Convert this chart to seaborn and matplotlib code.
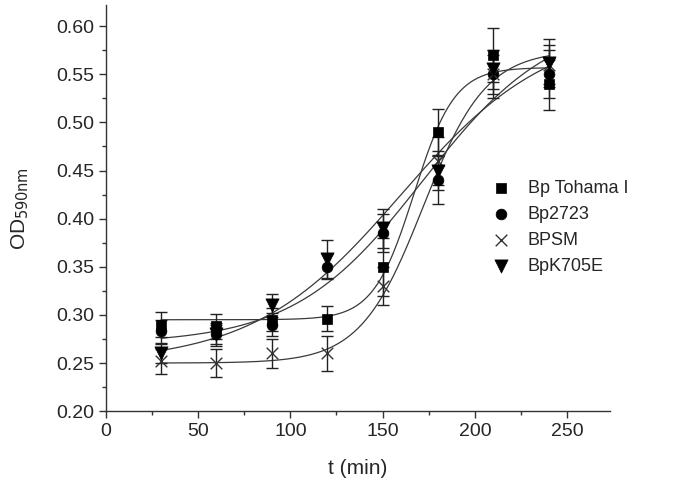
import matplotlib
matplotlib.use('Agg')
import matplotlib.pyplot as plt
import seaborn as sns
import numpy as np
import pandas as pd
from matplotlib.ticker import MultipleLocator

# Время отбора проб (мин)
t_min = [30, 60, 90, 120, 150, 180, 210, 240]

# Оптическая плотность и погрешности по штаммам
od_tohama = [0.290, 0.288, 0.295, 0.296, 0.350, 0.490, 0.570, 0.540]
err_tohama = [0.013, 0.013, 0.012, 0.013, 0.030, 0.024, 0.028, 0.027]

od_2723 = [0.283, 0.280, 0.290, 0.350, 0.385, 0.440, 0.550, 0.550]
err_2723 = [0.012, 0.012, 0.012, 0.013, 0.020, 0.025, 0.025, 0.025]

od_bpsm = [0.252, 0.250, 0.260, 0.260, 0.330, 0.460, 0.550, 0.560]
err_bpsm = [0.013, 0.015, 0.015, 0.018, 0.020, 0.025, 0.020, 0.020]

od_k705e = [0.260, 0.280, 0.310, 0.358, 0.390, 0.450, 0.555, 0.562]
err_k705e = [0.010, 0.010, 0.012, 0.020, 0.020, 0.020, 0.020, 0.025]

strains = ['Bp Tohama I', 'Bp2723', 'BPSM', 'BpK705E']
markers = ['s', 'o', 'x', 'v']
sizes = [55, 60, 70, 90]

# Параметры сигмоидальной аппроксимации (Boltzmann: A1, A2, x0, dx)
fit_tohama = (0.295, 0.557, 167, 11)
fit_2723 = (0.270, 0.610, 172, 35)
fit_bpsm = (0.250, 0.575, 172, 17)
fit_k705e = (0.250, 0.600, 160, 40)


def boltzmann(x, p):
    a1, a2, x0, dx = p
    return a2 + (a1 - a2) / (1 + np.exp((x - x0) / dx))


sns.set_style('ticks')
plt.rcParams['font.family'] = ['Liberation Sans', 'DejaVu Sans']

fig = plt.figure(figsize=(7, 4.96), dpi=100)
ax = fig.add_axes([0.151, 0.171, 0.72, 0.819])

series = [
    (od_tohama, err_tohama, fit_tohama),
    (od_2723, err_2723, fit_2723),
    (od_bpsm, err_bpsm, fit_bpsm),
    (od_k705e, err_k705e, fit_k705e),
]

t_fit = np.linspace(30, 240, 300)
for name, mk, sz, (od, err, fit) in zip(strains, markers, sizes, series):
    # Кривая аппроксимации
    curve = pd.DataFrame({'t': t_fit, 'od': boltzmann(t_fit, fit)})
    sns.lineplot(data=curve, x='t', y='od', ax=ax, color='#3a3a3a',
                 linewidth=0.9, legend=False)
    # Погрешности
    ax.errorbar(t_min, od, yerr=err, fmt='none', ecolor='#222222',
                elinewidth=1.0, capsize=4, capthick=1.0, zorder=3)
    # Точки
    pts = pd.DataFrame({'t': t_min, 'od': od})
    if mk == 'x':
        sns.scatterplot(data=pts, x='t', y='od', ax=ax, marker='x', s=sz,
                        color='#333333', linewidth=1.0, label=name, zorder=4)
    else:
        sns.scatterplot(data=pts, x='t', y='od', ax=ax, marker=mk, s=sz,
                        color='black', edgecolor='black', linewidth=0.5,
                        label=name, zorder=4)

ax.set_xlim(0, 273)
ax.set_ylim(0.20, 0.622)
ax.xaxis.set_major_locator(MultipleLocator(50))
ax.xaxis.set_minor_locator(MultipleLocator(25))
ax.yaxis.set_major_locator(MultipleLocator(0.05))
ax.yaxis.set_minor_locator(MultipleLocator(0.025))
ax.yaxis.set_major_formatter(matplotlib.ticker.FormatStrFormatter('%.2f'))
ax.tick_params(which='major', direction='out', length=5, width=1,
               labelsize=14, color='#333333')
ax.tick_params(which='minor', direction='out', length=3, width=1,
               color='#333333')
sns.despine(ax=ax)
for s in ['left', 'bottom']:
    ax.spines[s].set_color('#333333')
    ax.spines[s].set_linewidth(1.0)

ax.set_xlabel('t (min)', fontsize=15, labelpad=14)
ax.set_ylabel(r'OD$_{\mathrm{590nm}}$', fontsize=15, labelpad=18)

ax.legend(frameon=False, loc='upper left', bbox_to_anchor=(0.73, 0.61),
          fontsize=13, handletextpad=0.9, labelspacing=0.5,
          handlelength=1.2)

fig.savefig('out.png', dpi=100)
